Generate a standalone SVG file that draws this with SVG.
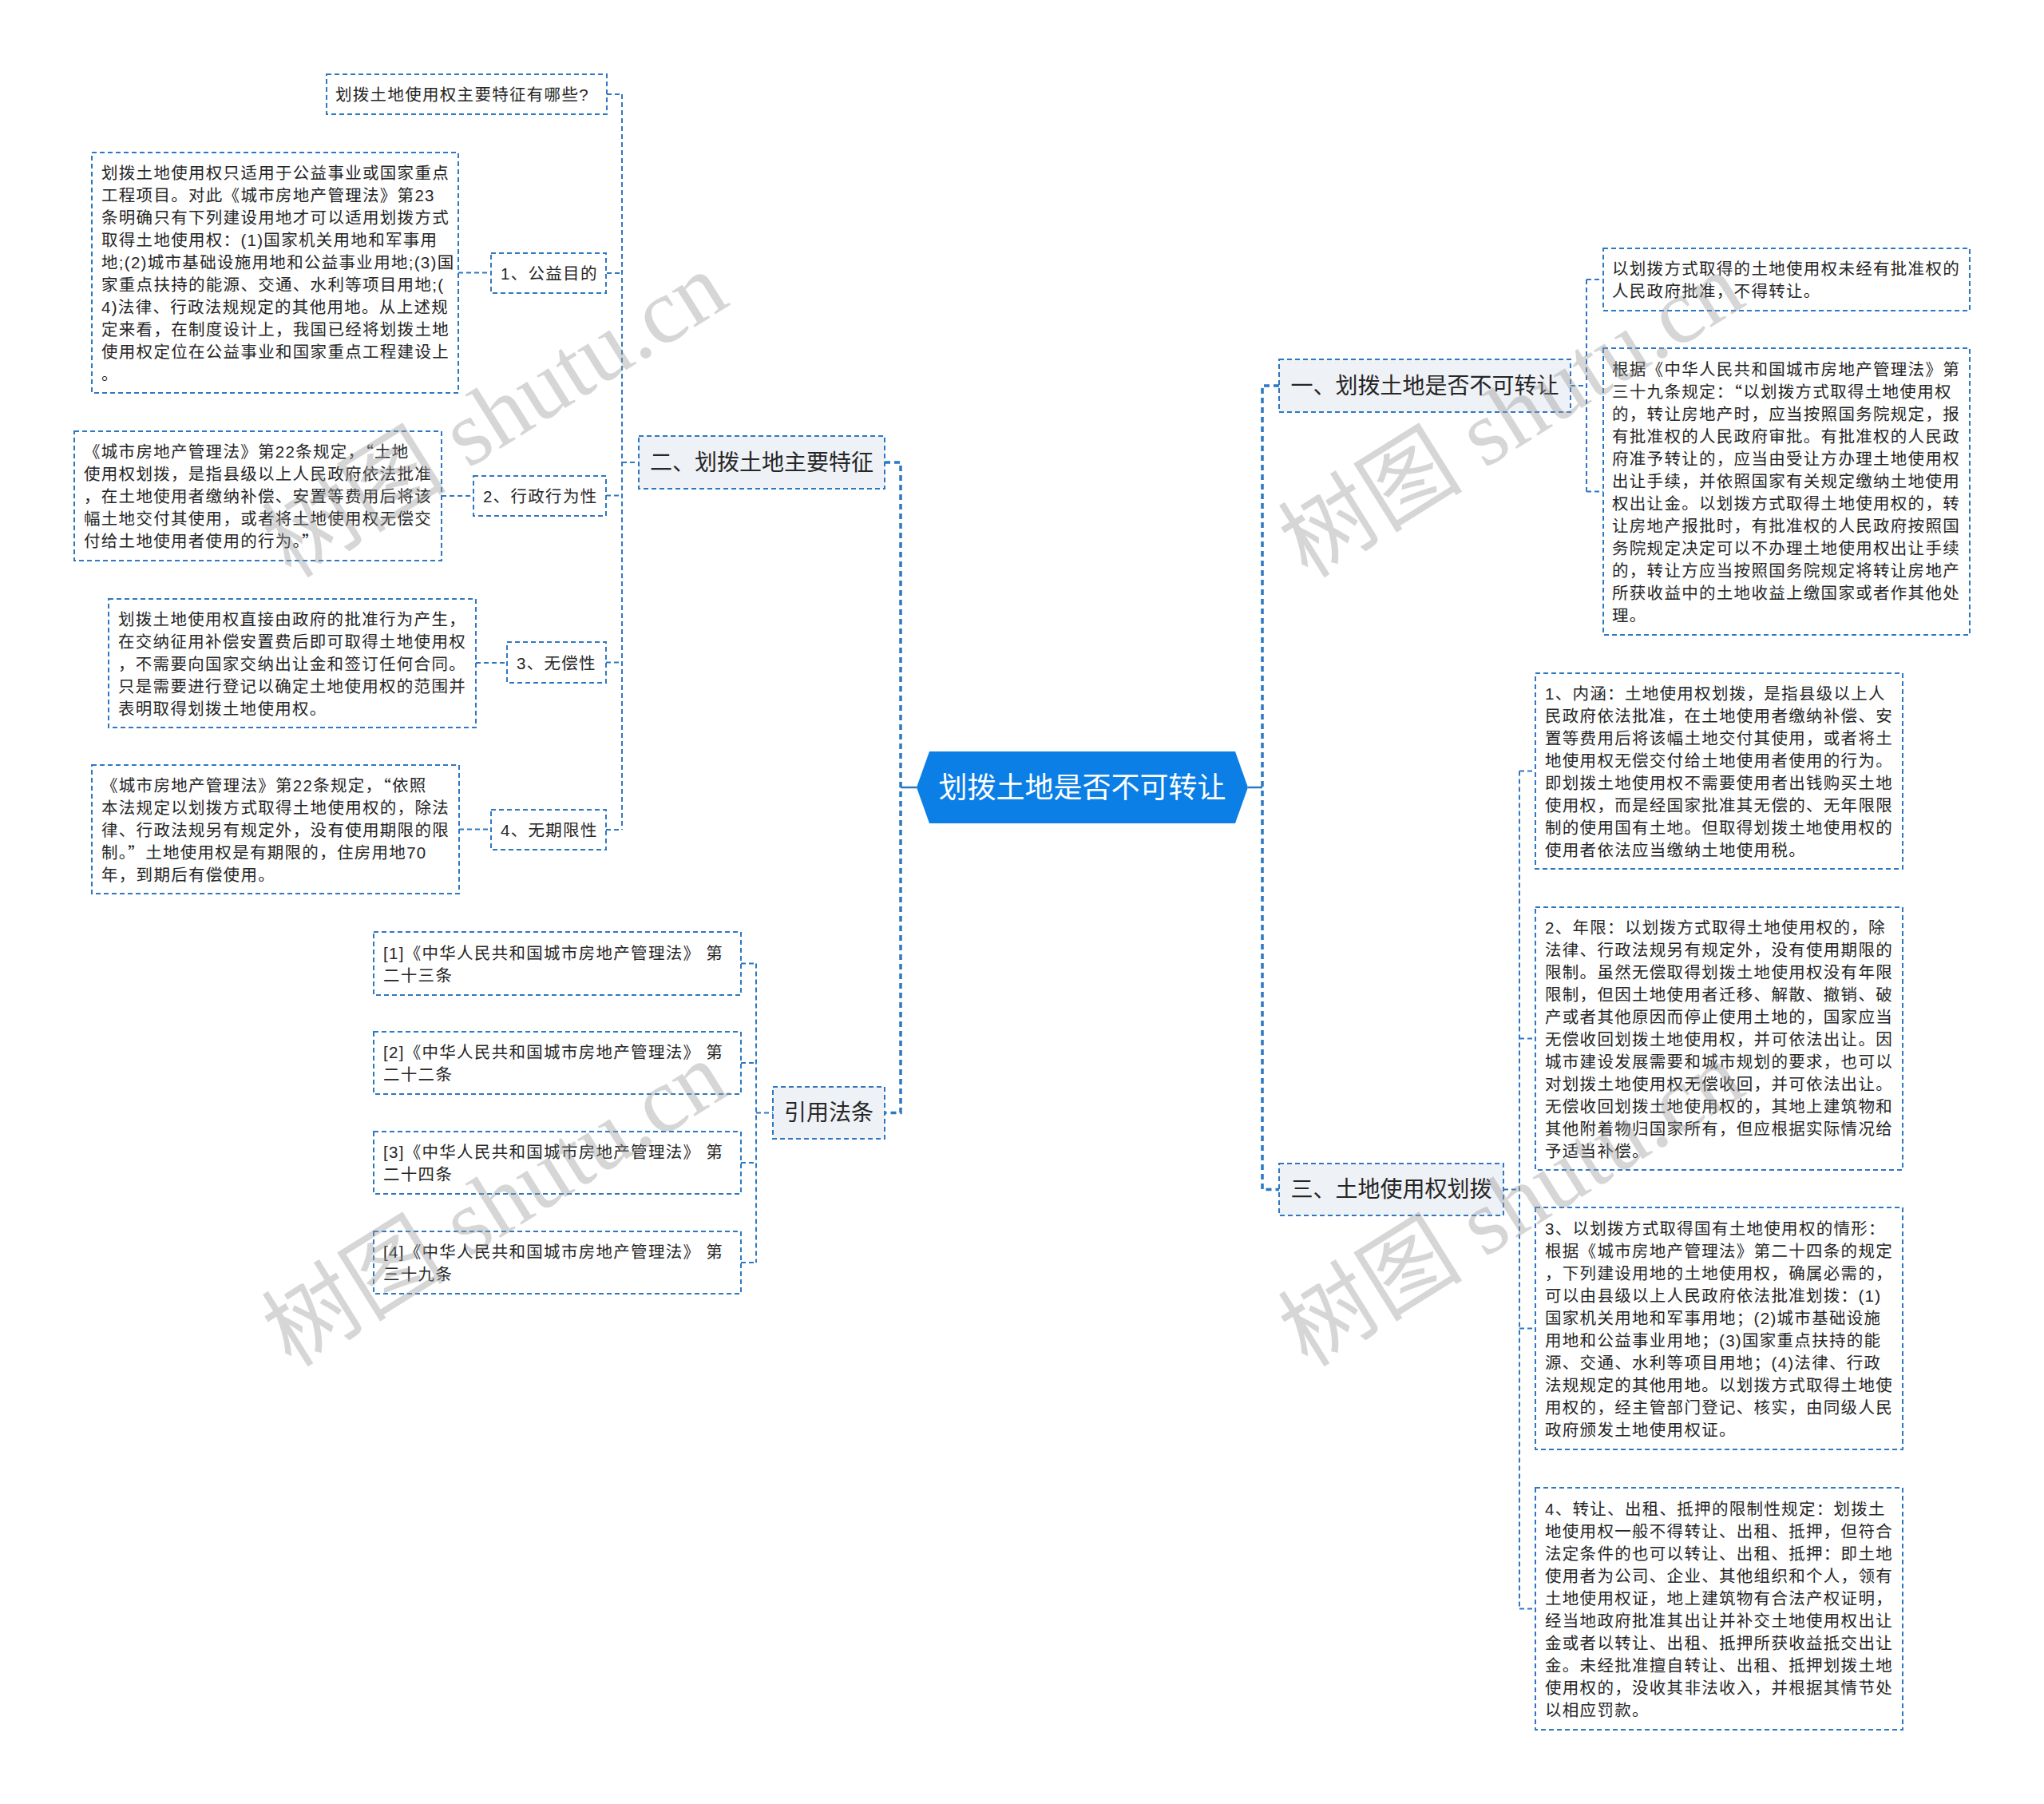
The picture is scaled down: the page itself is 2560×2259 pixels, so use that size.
<svg xmlns="http://www.w3.org/2000/svg" width="2560" height="2259" viewBox="0 0 2560 2259">
<style>
.bx{fill:#ffffff;stroke:#2E78C2;stroke-width:2;stroke-dasharray:6 4}
.l1{fill:#EEF1F6;stroke:#2E78C2;stroke-width:2;stroke-dasharray:6 4}
.d{font-family:"Liberation Sans","Noto Sans CJK SC",sans-serif;font-size:20.5px;letter-spacing:1.3px;fill:#262626;dominant-baseline:central}
.q{font-family:"Noto Sans CJK SC",sans-serif}
.h{font-family:"Liberation Sans","Noto Sans CJK SC",sans-serif;font-size:28px;fill:#262626;dominant-baseline:central;text-anchor:middle}
.m{font-family:"Liberation Sans","Noto Sans CJK SC",sans-serif;font-size:36px;fill:#ffffff;dominant-baseline:central;text-anchor:middle}
.c{fill:none;stroke:#2E78C2;stroke-width:2;stroke-dasharray:6 4}
.ct{fill:none;stroke:#2E78C2;stroke-width:3.5;stroke-dasharray:7 5}
.cs{fill:none;stroke:#2E78C2;stroke-width:2.5}
.wm{font-family:"Liberation Serif","Noto Sans CJK SC",serif;font-size:116px;fill:#9a9a9a;opacity:0.4;dominant-baseline:central;text-anchor:middle}
</style>
<rect width="2560" height="2259" fill="#ffffff"/>

<g id="connectors">
  <path class="ct" d="M1108,579 H1128 V1393.5 H1108"/>
  <path class="cs" d="M1128,986 H1148"/>
  <path class="ct" d="M1602,483 H1581 V1489.5 H1602"/>
  <path class="cs" d="M1563,986 H1581"/>
  <path class="c" d="M779,118 V1039"/>
  <path class="c" d="M760,118 H779 M760,342 H779 M759,620.5 H779 M759,829.5 H779 M759,1039 H779 M779,579 H800"/>
  <path class="c" d="M574,341.5 H615 M553,621 H593 M596,830 H635 M575,1038.5 H615"/>
  <path class="c" d="M947,1206.5 V1581"/>
  <path class="c" d="M928,1206.5 H947 M928,1331 H947 M928,1456 H947 M928,1581 H947 M947,1393.5 H968"/>
  <path class="c" d="M1987,350 V615.5"/>
  <path class="c" d="M1967,483 H1987 M1987,350 H2008 M1987,615.5 H2008"/>
  <path class="c" d="M1903,965.5 V2014.5"/>
  <path class="c" d="M1883,1489.5 H1903 M1903,965.5 H1923 M1903,1300.5 H1923 M1903,1663.5 H1923 M1903,2014.5 H1923"/>
</g>

<g id="root">
  <polygon points="1148,986 1164,941 1547,941 1563,986 1547,1031 1164,1031" fill="#0B7FE6"/>
  <text class="m" x="1355.5" y="986">划拨土地是否不可转让</text>
</g>

<g id="n2">
  <rect class="l1" x="800" y="546" width="308" height="66"/>
  <text class="h" x="954" y="579">二、划拨土地主要特征</text>
</g>
<g id="n2q">
  <rect class="bx" x="409" y="93" width="351" height="50"/>
  <text class="d" x="420" y="118">划拨土地使用权主要特征有哪些?</text>
</g>
<g id="n2a">
  <rect class="bx" x="615" y="317" width="144" height="50"/>
  <text class="d" x="627" y="342">1、公益目的</text>
</g>
<g id="n2a1">
  <rect class="bx" x="115" y="191" width="459" height="301"/>
  <text class="d">
    <tspan x="127" y="215.5">划拨土地使用权只适用于公益事业或国家重点</tspan>
    <tspan x="127" y="243.5">工程项目。对此《城市房地产管理法》第23</tspan>
    <tspan x="127" y="271.5">条明确只有下列建设用地才可以适用划拨方式</tspan>
    <tspan x="127" y="299.5">取得土地使用权：(1)国家机关用地和军事用</tspan>
    <tspan x="127" y="327.5">地;(2)城市基础设施用地和公益事业用地;(3)国</tspan>
    <tspan x="127" y="355.5">家重点扶持的能源、交通、水利等项目用地;(</tspan>
    <tspan x="127" y="383.5">4)法律、行政法规规定的其他用地。从上述规</tspan>
    <tspan x="127" y="411.5">定来看，在制度设计上，我国已经将划拨土地</tspan>
    <tspan x="127" y="439.5">使用权定位在公益事业和国家重点工程建设上</tspan>
    <tspan x="127" y="467.5">。</tspan>
  </text>
</g>
<g id="n2b">
  <rect class="bx" x="593" y="596" width="166" height="50"/>
  <text class="d" x="605" y="621">2、行政行为性</text>
</g>
<g id="n2b1">
  <rect class="bx" x="93" y="540" width="460" height="162"/>
  <text class="d">
    <tspan x="105" y="565">《城市房地产管理法》第22条规定，<tspan class="q">“</tspan>土地</tspan>
    <tspan x="105" y="593">使用权划拨，是指县级以上人民政府依法批准</tspan>
    <tspan x="105" y="621">，在土地使用者缴纳补偿、安置等费用后将该</tspan>
    <tspan x="105" y="649">幅土地交付其使用，或者将土地使用权无偿交</tspan>
    <tspan x="105" y="677">付给土地使用者使用的行为。<tspan class="q">”</tspan></tspan>
  </text>
</g>
<g id="n2c">
  <rect class="bx" x="635" y="804" width="124" height="51"/>
  <text class="d" x="647" y="830">3、无偿性</text>
</g>
<g id="n2c1">
  <rect class="bx" x="136" y="750" width="460" height="161"/>
  <text class="d">
    <tspan x="148" y="774.5">划拨土地使用权直接由政府的批准行为产生，</tspan>
    <tspan x="148" y="802.5">在交纳征用补偿安置费后即可取得土地使用权</tspan>
    <tspan x="148" y="830.5">，不需要向国家交纳出让金和签订任何合同。</tspan>
    <tspan x="148" y="858.5">只是需要进行登记以确定土地使用权的范围并</tspan>
    <tspan x="148" y="886.5">表明取得划拨土地使用权。</tspan>
  </text>
</g>
<g id="n2d">
  <rect class="bx" x="615" y="1014" width="144" height="50"/>
  <text class="d" x="627" y="1039">4、无期限性</text>
</g>
<g id="n2d1">
  <rect class="bx" x="115" y="958" width="460" height="161"/>
  <text class="d">
    <tspan x="127" y="982.5">《城市房地产管理法》第22条规定，<tspan class="q">“</tspan>依照</tspan>
    <tspan x="127" y="1010.5">本法规定以划拨方式取得土地使用权的，除法</tspan>
    <tspan x="127" y="1038.5">律、行政法规另有规定外，没有使用期限的限</tspan>
    <tspan x="127" y="1066.5">制。<tspan class="q">”</tspan>土地使用权是有期限的，住房用地70</tspan>
    <tspan x="127" y="1094.5">年，到期后有偿使用。</tspan>
  </text>
</g>

<g id="n4">
  <rect class="l1" x="968" y="1361" width="140" height="65"/>
  <text class="h" x="1038" y="1393.5">引用法条</text>
</g>
<g id="n4a">
  <rect class="bx" x="468" y="1167" width="460" height="79"/>
  <text class="d"><tspan x="480" y="1192.5">[1]《中华人民共和国城市房地产管理法》 第</tspan><tspan x="480" y="1220.5">二十三条</tspan></text>
</g>
<g id="n4b">
  <rect class="bx" x="468" y="1292" width="460" height="78"/>
  <text class="d"><tspan x="480" y="1317">[2]《中华人民共和国城市房地产管理法》 第</tspan><tspan x="480" y="1345">二十二条</tspan></text>
</g>
<g id="n4c">
  <rect class="bx" x="468" y="1417" width="460" height="78"/>
  <text class="d"><tspan x="480" y="1442">[3]《中华人民共和国城市房地产管理法》 第</tspan><tspan x="480" y="1470">二十四条</tspan></text>
</g>
<g id="n4d">
  <rect class="bx" x="468" y="1542" width="460" height="78"/>
  <text class="d"><tspan x="480" y="1567">[4]《中华人民共和国城市房地产管理法》 第</tspan><tspan x="480" y="1595">三十九条</tspan></text>
</g>

<g id="n1">
  <rect class="l1" x="1602" y="450" width="365" height="66"/>
  <text class="h" x="1784.5" y="483">一、划拨土地是否不可转让</text>
</g>
<g id="n1a">
  <rect class="bx" x="2008" y="311" width="459" height="78"/>
  <text class="d"><tspan x="2019" y="336">以划拨方式取得的土地使用权未经有批准权的</tspan><tspan x="2019" y="364">人民政府批准，不得转让。</tspan></text>
</g>
<g id="n1b">
  <rect class="bx" x="2008" y="436" width="459" height="359"/>
  <text class="d">
    <tspan x="2019" y="461.5">根据《中华人民共和国城市房地产管理法》第</tspan>
    <tspan x="2019" y="489.5">三十九条规定：<tspan class="q">“</tspan>以划拨方式取得土地使用权</tspan>
    <tspan x="2019" y="517.5">的，转让房地产时，应当按照国务院规定，报</tspan>
    <tspan x="2019" y="545.5">有批准权的人民政府审批。有批准权的人民政</tspan>
    <tspan x="2019" y="573.5">府准予转让的，应当由受让方办理土地使用权</tspan>
    <tspan x="2019" y="601.5">出让手续，并依照国家有关规定缴纳土地使用</tspan>
    <tspan x="2019" y="629.5">权出让金。以划拨方式取得土地使用权的，转</tspan>
    <tspan x="2019" y="657.5">让房地产报批时，有批准权的人民政府按照国</tspan>
    <tspan x="2019" y="685.5">务院规定决定可以不办理土地使用权出让手续</tspan>
    <tspan x="2019" y="713.5">的，转让方应当按照国务院规定将转让房地产</tspan>
    <tspan x="2019" y="741.5">所获收益中的土地收益上缴国家或者作其他处</tspan>
    <tspan x="2019" y="769.5">理。</tspan>
  </text>
</g>

<g id="n3">
  <rect class="l1" x="1602" y="1457" width="281" height="65"/>
  <text class="h" x="1742.5" y="1489.5">三、土地使用权划拨</text>
</g>
<g id="n3a">
  <rect class="bx" x="1923" y="843" width="460" height="245"/>
  <text class="d">
    <tspan x="1935" y="867.5">1、内涵：土地使用权划拨，是指县级以上人</tspan>
    <tspan x="1935" y="895.5">民政府依法批准，在土地使用者缴纳补偿、安</tspan>
    <tspan x="1935" y="923.5">置等费用后将该幅土地交付其使用，或者将土</tspan>
    <tspan x="1935" y="951.5">地使用权无偿交付给土地使用者使用的行为。</tspan>
    <tspan x="1935" y="979.5">即划拨土地使用权不需要使用者出钱购买土地</tspan>
    <tspan x="1935" y="1007.5">使用权，而是经国家批准其无偿的、无年限限</tspan>
    <tspan x="1935" y="1035.5">制的使用国有土地。但取得划拨土地使用权的</tspan>
    <tspan x="1935" y="1063.5">使用者依法应当缴纳土地使用税。</tspan>
  </text>
</g>
<g id="n3b">
  <rect class="bx" x="1923" y="1136" width="460" height="329"/>
  <text class="d">
    <tspan x="1935" y="1160.5">2、年限：以划拨方式取得土地使用权的，除</tspan>
    <tspan x="1935" y="1188.5">法律、行政法规另有规定外，没有使用期限的</tspan>
    <tspan x="1935" y="1216.5">限制。虽然无偿取得划拨土地使用权没有年限</tspan>
    <tspan x="1935" y="1244.5">限制，但因土地使用者迁移、解散、撤销、破</tspan>
    <tspan x="1935" y="1272.5">产或者其他原因而停止使用土地的，国家应当</tspan>
    <tspan x="1935" y="1300.5">无偿收回划拨土地使用权，并可依法出让。因</tspan>
    <tspan x="1935" y="1328.5">城市建设发展需要和城市规划的要求，也可以</tspan>
    <tspan x="1935" y="1356.5">对划拨土地使用权无偿收回，并可依法出让。</tspan>
    <tspan x="1935" y="1384.5">无偿收回划拨土地使用权的，其地上建筑物和</tspan>
    <tspan x="1935" y="1412.5">其他附着物归国家所有，但应根据实际情况给</tspan>
    <tspan x="1935" y="1440.5">予适当补偿。</tspan>
  </text>
</g>
<g id="n3c">
  <rect class="bx" x="1923" y="1512" width="460" height="303"/>
  <text class="d">
    <tspan x="1935" y="1537.5">3、以划拨方式取得国有土地使用权的情形：</tspan>
    <tspan x="1935" y="1565.5">根据《城市房地产管理法》第二十四条的规定</tspan>
    <tspan x="1935" y="1593.5">，下列建设用地的土地使用权，确属必需的，</tspan>
    <tspan x="1935" y="1621.5">可以由县级以上人民政府依法批准划拨：(1)</tspan>
    <tspan x="1935" y="1649.5">国家机关用地和军事用地；(2)城市基础设施</tspan>
    <tspan x="1935" y="1677.5">用地和公益事业用地；(3)国家重点扶持的能</tspan>
    <tspan x="1935" y="1705.5">源、交通、水利等项目用地；(4)法律、行政</tspan>
    <tspan x="1935" y="1733.5">法规规定的其他用地。以划拨方式取得土地使</tspan>
    <tspan x="1935" y="1761.5">用权的，经主管部门登记、核实，由同级人民</tspan>
    <tspan x="1935" y="1789.5">政府颁发土地使用权证。</tspan>
  </text>
</g>
<g id="n3d">
  <rect class="bx" x="1923" y="1863" width="460" height="303"/>
  <text class="d">
    <tspan x="1935" y="1888.5">4、转让、出租、抵押的限制性规定：划拨土</tspan>
    <tspan x="1935" y="1916.5">地使用权一般不得转让、出租、抵押，但符合</tspan>
    <tspan x="1935" y="1944.5">法定条件的也可以转让、出租、抵押：即土地</tspan>
    <tspan x="1935" y="1972.5">使用者为公司、企业、其他组织和个人，领有</tspan>
    <tspan x="1935" y="2000.5">土地使用权证，地上建筑物有合法产权证明，</tspan>
    <tspan x="1935" y="2028.5">经当地政府批准其出让并补交土地使用权出让</tspan>
    <tspan x="1935" y="2056.5">金或者以转让、出租、抵押所获收益抵交出让</tspan>
    <tspan x="1935" y="2084.5">金。未经批准擅自转让、出租、抵押划拨土地</tspan>
    <tspan x="1935" y="2112.5">使用权的，没收其非法收入，并根据其情节处</tspan>
    <tspan x="1935" y="2140.5">以相应罚款。</tspan>
  </text>
</g>

<g id="watermarks">
  <text class="wm" transform="rotate(-32 620 520)" x="620" y="520">树图 shutu.cn</text>
  <text class="wm" transform="rotate(-32 1893 520)" x="1893" y="520">树图 shutu.cn</text>
  <text class="wm" transform="rotate(-32 620 1508)" x="620" y="1508">树图 shutu.cn</text>
  <text class="wm" transform="rotate(-32 1893 1508)" x="1893" y="1508">树图 shutu.cn</text>
</g>
</svg>
